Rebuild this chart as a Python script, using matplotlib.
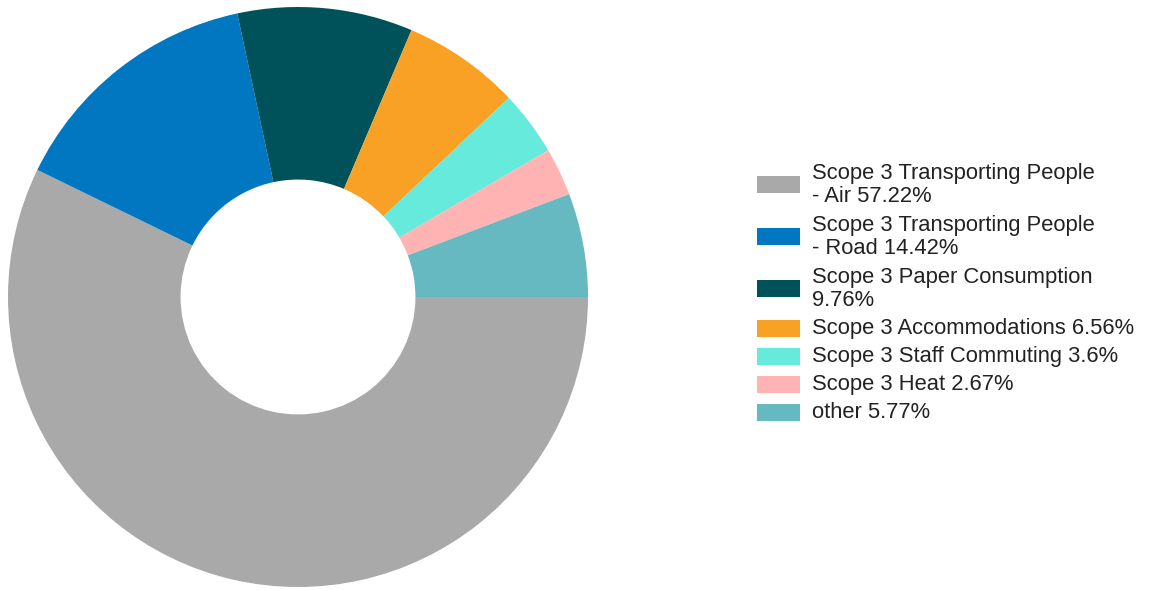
import matplotlib.pyplot as plt
from matplotlib.patches import Rectangle

# slice data
labels = [
    "Scope 3 Transporting People\n- Air 57.22%",
    "Scope 3 Transporting People\n- Road 14.42%",
    "Scope 3 Paper Consumption\n9.76%",
    "Scope 3 Accommodations 6.56%",
    "Scope 3 Staff Commuting 3.6%",
    "Scope 3 Heat 2.67%",
    "other 5.77%",
]
values = [57.22, 14.42, 9.76, 6.56, 3.6, 2.67, 5.77]
colors = ["#a9a9a9", "#0077c0", "#00525a", "#f9a124", "#66eadb", "#ffb3b3", "#66b9c1"]

W, H = 1150, 590
fig = plt.figure(figsize=(W / 100, H / 100), dpi=100)
plt.rcParams['font.family'] = ['Liberation Sans', 'DejaVu Sans']

# donut
cx, cy, r = 298, 297, 290
ax = fig.add_axes([(cx - r) / W, (H - cy - r) / H, 2 * r / W, 2 * r / H])
ax.pie(values, colors=colors, startangle=0, counterclock=False, radius=1,
       wedgeprops=dict(width=0.595, linewidth=0))
ax.set_xlim(-1, 1)
ax.set_ylim(-1, 1)
ax.set_aspect('equal')
ax.axis('off')

# legend drawn by hand (pixel positions from top)
lax = fig.add_axes([0, 0, 1, 1])
lax.set_xlim(0, W)
lax.set_ylim(H, 0)
lax.axis('off')

y = 184.5
prev_h = None
for lab, col in zip(labels, colors):
    lines = lab.split("\n")
    h = 28 + 24 * (len(lines) - 1)
    if prev_h is not None:
        y += (prev_h + h) / 2
    prev_h = h
    lax.add_patch(Rectangle((757, y - 8.5), 43, 17, facecolor=col, edgecolor='none'))
    for i, line in enumerate(lines):
        ly = y + (i - (len(lines) - 1) / 2) * 23
        lax.text(812, ly, line, fontsize=15.8, va='center', ha='left', color='#222222')

fig.savefig("out.png", dpi=100)
